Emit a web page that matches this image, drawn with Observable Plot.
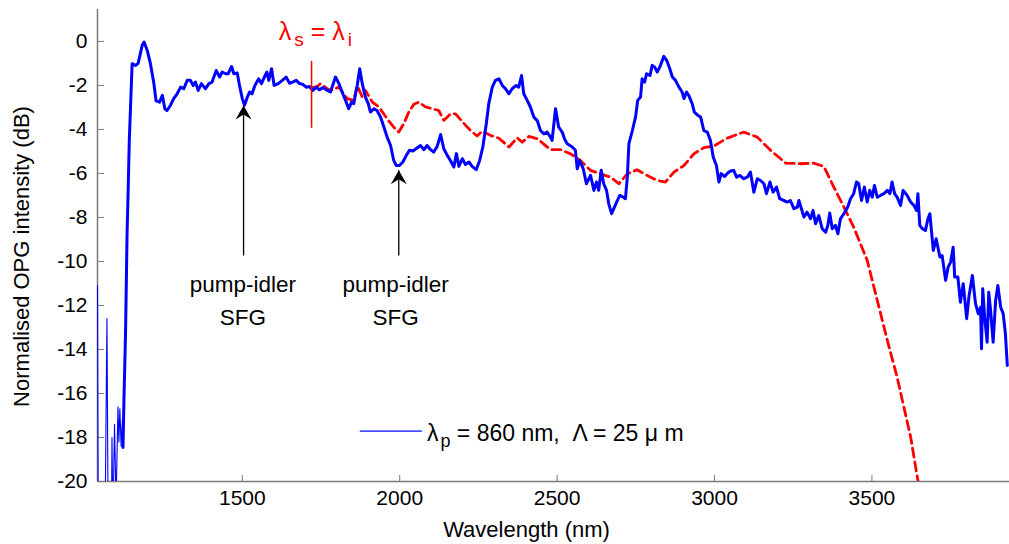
<!DOCTYPE html>
<html><head><meta charset="utf-8">
<script src="https://cdn.jsdelivr.net/npm/d3@7"></script>
<script src="https://cdn.jsdelivr.net/npm/@observablehq/plot@0.6"></script>
<style>body{margin:0;background:#fff} svg text{white-space:pre}</style>
</head><body><div id="chart"></div>
<script>
// ---- axes ----
const xDomain = [1040, 3937];
const yDomain = [-20, 1.45];
const xTicks = [1500, 2000, 2500, 3000, 3500];
const yTicks = [0, -2, -4, -6, -8, -10, -12, -14, -16, -18, -20];

// ---- measured OPG spectrum (blue), noisy onset drawn thin ----
const blueThinWl = [1040,1043,1062,1070,1075,1083,1086,1089,1094,1099,1105,1108,1111,1115,1119,1121];
const blueThinDb = [-11.1,-25,-25,-12.6,-25,-25,-18.0,-22,-17.4,-21,-16.6,-18.2,-16.7,-18.4,-17.2,-18.45];

const blueWl = [
1121,1124,1129,1134,1137,1141,1150,1161,1169,1182,
1188,1198,1208,1219,1226,1237,1246,1254,1261,1272,
1282,1293,1304,1314,1325,1335,1344,1351,1360,1370,
1383,1394,1404,1417,1428,1436,1447,1455,1466,1473,
1484,1491,1500,1507,1516,1523,1531,1540,1552,1561,
1570,1578,1584,1593,1601,1614,1627,1639,1650,1660,
1671,1682,1692,1703,1713,1724,1735,1745,1756,1767,
1780,1796,1807,1817,1828,1838,1847,1854,1865,1873,
1881,1891,1900,1907,1918,1928,1939,1950,1960,1971,
1981,1989,1999,2010,2021,2031,2042,2056,2066,2077,
2087,2098,2108,2119,2130,2140,2151,2161,2172,2180,
2188,2199,2209,2220,2230,2243,2254,2264,2275,2283,
2294,2304,2315,2326,2336,2347,2357,2370,2378,2387,
2394,2405,2415,2426,2437,2447,2458,2468,2479,2484,
2495,2505,2516,2524,2532,2548,2558,2564,2572,2583,
2593,2606,2617,2625,2632,2640,2648,2657,2664,2673,
2680,2689,2699,2710,2717,2723,2728,2739,2749,2756,
2765,2770,2778,2784,2795,2802,2810,2818,2826,2839,
2848,2858,2866,2876,2887,2897,2903,2911,2918,2929,
2936,2947,2956,2966,2977,2987,2996,3006,3014,3021,
3032,3042,3051,3061,3070,3080,3093,3104,3114,3125,
3136,3146,3157,3165,3176,3186,3197,3207,3220,3231,
3241,3252,3263,3268,3284,3294,3305,3313,3321,3331,
3342,3353,3360,3366,3374,3384,3392,3400,3411,3423,
3432,3442,3451,3458,3467,3476,3485,3493,3501,3508,
3517,3527,3538,3549,3557,3564,3572,3580,3591,3599,
3612,3623,3633,3642,3646,3652,3660,3670,3678,3684,
3695,3704,3716,3723,3734,3742,3750,3758,3763,3773,
3781,3790,3801,3808,3819,3829,3838,3845,3848,3852,
3858,3866,3871,3877,3885,3893,3900,3909,3917,3924,
3930];
const blueDb = [
-18.45,-16.3,-13.3,-8.7,-7.0,-4.5,-1.01,-1.09,-1.0,-0.18,
-0.03,-0.41,-1.0,-1.9,-2.7,-2.76,-2.45,-3.06,-3.14,-2.9,
-2.6,-2.38,-2.08,-2.15,-1.77,-1.77,-2.0,-1.85,-2.23,-1.92,
-2.15,-1.92,-1.85,-1.32,-1.62,-1.39,-1.47,-1.47,-1.14,-1.47,
-1.44,-2.0,-2.6,-2.9,-2.53,-2.3,-2.38,-2.0,-1.7,-1.92,
-1.62,-1.39,-1.77,-1.24,-2.0,-1.92,-1.77,-1.62,-1.9,-1.85,
-1.77,-1.92,-1.95,-2.08,-2.05,-2.23,-2.08,-2.2,-2.1,-2.2,
-2.3,-1.62,-1.92,-2.3,-2.68,-3.06,-2.76,-2.83,-2.0,-1.24,
-1.92,-2.53,-2.83,-3.21,-3.06,-3.14,-3.44,-3.9,-4.35,-4.73,
-5.41,-5.64,-5.64,-5.48,-5.18,-4.95,-4.98,-4.83,-4.73,-4.92,
-4.73,-4.92,-5.03,-4.77,-4.23,-4.88,-5.18,-5.41,-5.71,-5.1,
-5.68,-5.33,-5.59,-5.48,-5.68,-5.83,-5.41,-4.8,-3.74,-2.83,
-2.08,-1.77,-1.7,-2.0,-2.15,-2.38,-2.15,-2.0,-2.08,-1.55,
-2.38,-2.68,-2.98,-3.44,-3.6,-4.05,-4.2,-4.12,-4.35,-4.5,
-3.06,-3.9,-4.12,-4.45,-4.65,-4.8,-4.95,-5.79,-5.41,-5.79,
-6.47,-6.09,-6.77,-6.39,-6.77,-5.86,-6.47,-6.77,-7.38,-7.83,
-7.6,-7.3,-7.0,-7.08,-7.15,-6.17,-4.65,-4.05,-3.44,-2.68,
-2.53,-1.7,-1.85,-1.47,-1.55,-1.09,-1.17,-1.39,-1.17,-0.68,
-0.86,-1.24,-1.62,-1.77,-2.08,-2.3,-2.6,-2.3,-2.45,-2.83,
-3.21,-3.36,-3.44,-4.05,-4.12,-4.5,-5.26,-5.64,-6.39,-6.01,
-6.14,-5.98,-5.89,-5.86,-6.17,-6.09,-6.24,-6.17,-5.94,-6.85,
-6.24,-6.32,-6.47,-6.92,-6.39,-6.85,-6.62,-7.15,-7.23,-7.3,
-7.23,-7.6,-7.53,-7.23,-7.98,-7.76,-8.06,-7.68,-8.29,-7.91,
-8.51,-8.67,-8.36,-7.8,-8.51,-8.36,-8.74,-8.06,-7.83,-7.53,
-7.15,-6.92,-6.39,-6.47,-7.23,-6.62,-7.3,-6.77,-7.08,-6.55,
-7.08,-7.0,-6.92,-6.77,-6.92,-6.39,-6.92,-7.08,-7.45,-6.77,
-7.0,-7.3,-7.45,-7.68,-6.92,-8.36,-8.51,-8.59,-8.06,-7.83,
-9.5,-8.97,-9.8,-9.73,-10.86,-10.26,-10.03,-9.35,-10.71,-10.71,
-11.85,-11.01,-12.6,-11.62,-10.64,-11.92,-12.38,-12.08,-13.97,-11.24,
-12.53,-13.67,-11.4,-12.23,-13.67,-11.77,-11.09,-12.08,-12.38,-13.29,
-14.73];

// ---- simulated spectrum (red dashed) ----
const redWl = [
1722,1738,1748,1770,1780,1807,1833,1854,1865,1881,
1891,1913,1934,1960,1981,1997,2013,2029,2045,2061,
2082,2103,2124,2140,2161,2177,2199,2225,2246,2262,
2288,2315,2347,2373,2389,2410,2437,2479,2511,2543,
2574,2606,2638,2670,2696,2723,2754,2786,2818,2844,
2871,2903,2934,2966,2998,3040,3093,3136,3178,3226,
3273,3315,3347,3379,3411,3442,3485,3517,3549,3580,
3623,3650];
const redDb = [
-2.1,-2.05,-1.92,-2.15,-2.23,-2.08,-2.6,-2.68,-2.0,-2.53,
-2.23,-2.76,-2.98,-3.52,-3.9,-4.12,-3.74,-3.21,-2.86,-2.76,
-2.98,-3.06,-3.14,-3.59,-3.3,-3.29,-3.65,-4.05,-4.3,-4.08,
-4.27,-4.4,-4.8,-4.38,-4.58,-4.32,-4.42,-4.92,-4.92,-5.11,
-5.41,-5.86,-6.02,-6.17,-6.47,-6.02,-5.83,-6.09,-6.32,-6.39,
-5.94,-5.64,-5.11,-4.83,-4.75,-4.4,-4.12,-4.35,-4.95,-5.53,
-5.56,-5.53,-5.68,-6.62,-7.53,-8.44,-9.95,-11.77,-13.59,-15.26,
-17.98,-20.3];

// ---- annotations (data units) ----
const degenWl = [1720];            // λs = λi marker
const degenDb = [-0.91, -3.95];
const degenLabelWl = 1734, degenLabelDb = 0.05;
const arrowWl = [1504, 1997];
const arrowTipDb = [-2.91, -5.86];
const arrowBaseDb = [-9.73, -9.73];
const sfgLabelWl = [1502, 1987];
const sfgLine1Db = -11.41, sfgLine2Db = -12.91;
const legendLineWl = [1875, 2069], legendLineDb = -17.71;
const legendTextWl = 2088, legendTextDb = -18.16;

const thin = blueThinWl.map((w, i) => ({wl: w, db: blueThinDb[i]}));
const blue = blueWl.map((w, i) => ({wl: w, db: blueDb[i]}));
const red = redWl.map((w, i) => ({wl: w, db: redDb[i]}));
const arrows = arrowWl.map((w, i) => ({wl: w, tip: arrowTipDb[i], base: arrowBaseDb[i]}));
const labels1 = sfgLabelWl.map(w => ({wl: w, db: sfgLine1Db, t: "pump-idler"}));
const labels2 = sfgLabelWl.map(w => ({wl: w, db: sfgLine2Db, t: "SFG"}));

const arrowHead = {draw(ctx) { ctx.moveTo(0, 0); ctx.lineTo(8, 14); ctx.lineTo(0, 9); ctx.lineTo(-8, 14); ctx.closePath(); }};

const font = "'Liberation Sans', Arial, Helvetica, sans-serif";
const axisGray = "#7a7a7a";

const chart = Plot.plot({
  width: 1009, height: 544,
  marginLeft: 97, marginRight: 0, marginTop: 9, marginBottom: 63,
  style: {fontFamily: font, fontSize: "21px", background: "white", color: "black", overflow: "visible"},
  x: {domain: xDomain, label: null},
  y: {domain: yDomain, label: null},
  marks: [
    Plot.ruleX([xDomain[0]], {stroke: axisGray, strokeWidth: 1.5}),
    Plot.ruleY([yDomain[0]], {stroke: axisGray, strokeWidth: 1.5}),
    Plot.axisY({ticks: yTicks, tickSize: -7, tickPadding: 17, stroke: axisGray, fill: "black", fontSize: 21, label: null, tickFormat: d => d === 0 ? "0" : String(d)}),
    Plot.axisX({ticks: xTicks, tickSize: -6, tickPadding: 15, stroke: axisGray, fill: "black", fontSize: 21, label: null, tickFormat: d => String(d)}),
    Plot.line(thin, {x: "wl", y: "db", stroke: "#0000ff", strokeWidth: 1.1, clip: true}),
    Plot.line(red, {x: "wl", y: "db", stroke: "#ff0000", strokeWidth: 2.8, strokeDasharray: "9,5", clip: true}),
    Plot.line(blue, {x: "wl", y: "db", stroke: "#0000ff", strokeWidth: 3, strokeLinejoin: "round", clip: true}),
    Plot.ruleX(degenWl, {y1: degenDb[0], y2: degenDb[1], stroke: "#ff0000", strokeWidth: 1.5}),
    Plot.link(arrows, {x1: "wl", x2: "wl", y1: "base", y2: "tip", stroke: "black", strokeWidth: 1.3}),
    Plot.dot(arrows, {x: "wl", y: "tip", symbol: arrowHead, fill: "black", stroke: "none"}),
    Plot.text(labels1, {x: "wl", y: "db", text: "t", lineAnchor: "bottom", fontSize: 22.5}),
    Plot.text(labels2, {x: "wl", y: "db", text: "t", lineAnchor: "bottom", fontSize: 22.5}),
    Plot.line(legendLineWl.map(w => ({wl: w, db: legendLineDb})), {x: "wl", y: "db", stroke: "#0000ff", strokeWidth: 1.6, strokeOpacity: 0.7}),
    Plot.text(["Wavelength (nm)"], {frameAnchor: "bottom", dx: -27, dy: 48, lineAnchor: "middle", fontSize: 22}),
    Plot.text(["Normalised OPG intensity (dB)"], {frameAnchor: "left", textAnchor: "middle", rotate: -90, dx: -76, dy: 11, lineAnchor: "middle", fontSize: 22})
  ]
});

document.getElementById("chart").appendChild(chart);

// subscripted annotations placed through the chart's own scales
const sx = chart.scale("x"), sy = chart.scale("y");
const svg = d3.select(chart);

const eq = svg.append("text")
  .attr("x", sx.apply(degenLabelWl)).attr("y", sy.apply(degenLabelDb))
  .attr("text-anchor", "middle").attr("fill", "#ff0000")
  .style("font-family", font).style("font-size", "25px");
eq.append("tspan").text("λ");
eq.append("tspan").attr("dx", 3).attr("dy", 6).style("font-size", "19px").text("s");
eq.append("tspan").attr("dy", -6).text(" = λ");
eq.append("tspan").attr("dx", 3).attr("dy", 6).style("font-size", "19px").text("i");

const lg = svg.append("text")
  .attr("x", sx.apply(legendTextWl)).attr("y", sy.apply(legendTextDb))
  .attr("text-anchor", "start").attr("fill", "black")
  .style("font-family", font).style("font-size", "23px");
lg.append("tspan").text("λ");
lg.append("tspan").attr("dx", 2).attr("dy", 6).style("font-size", "18px").text("p");
lg.append("tspan").attr("dy", -6).text(" = 860 nm,  Λ = 25 μ m");
</script></body></html>
